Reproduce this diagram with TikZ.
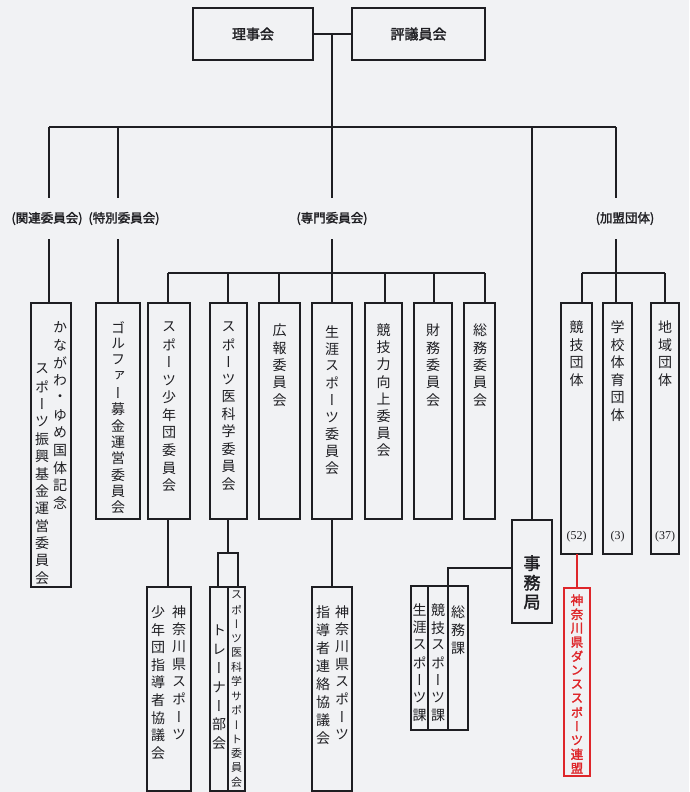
\documentclass[tikz,border=0pt]{standalone}
\usepackage{fontspec}
\newfontfamily\jpv[RawFeature=+vert]{Noto Sans CJK JP}
\newfontfamily\jpvb[RawFeature=+vert,FakeBold=2]{Noto Sans CJK JP}
\newfontfamily\jph{Noto Sans CJK JP}
\newfontfamily\jphb[FakeBold=2]{Noto Sans CJK JP}
\newfontfamily\numf{Liberation Serif}
\definecolor{bgc}{RGB}{241,242,244}
\definecolor{redc}{RGB}{222,38,42}
\definecolor{ink}{RGB}{30,30,34}
\newlength\myvtp
\def\myvtend{\myvtend}
\def\myvtloop#1{\ifx#1\myvtend\else\vbox to\myvtp{\vss\hbox to 2em{\hss#1\hss}\vss}\expandafter\myvtloop\fi}
\newcommand\myvtext[2]{\setlength\myvtp{#1}\vbox{\offinterlineskip\myvtloop#2\myvtend}}
\tikzset{
  box/.style={draw=ink,line width=1.3pt,inner sep=0pt,outer sep=0pt},
  ln/.style={draw=ink,line width=1.3pt},
  vt/.style={inner sep=0pt,anchor=north,text=ink,font=\jpv},
  lbl/.style={inner sep=0pt,minimum height=41pt,text=ink,font=\jphb\fontsize{12.5}{14}\selectfont},
  num/.style={inner sep=0pt,text=ink,font=\numf\fontsize{12}{14}\selectfont}
}
% box: name, x1, y1, x2, y2
\newcommand\bx[6][]{\node[box,#1,minimum width={#5-#3},minimum height={#6-#4}] (#2) at ({(#3+#5)/2},{(#4+#6)/2}) {};}
% vertical column: options, name, x, first char centre y, pitch, size, text
\newcommand\vcol[7][]{\node[vt,#1] (#2) at (#3,{#4-#5/2}) {\fontsize{#6}{#6}\selectfont\myvtext{#5pt}{#7}};}
\begin{document}
\begin{tikzpicture}[x=1pt,y=-1pt]
\fill[bgc] (0,0) rectangle (689,792);
\useasboundingbox (0,0) rectangle (689,792);

% top boxes
\bx{riji}{193}{8}{313}{60}
\bx{hyogi}{352}{8}{485}{60}
\node[text=ink,font=\jphb\fontsize{14}{16}\selectfont] (tr) at (riji) {理事会};
\node[text=ink,font=\jphb\fontsize{14}{16}\selectfont] (th) at (hyogi) {評議員会};
\coordinate (t0) at (332,34);
\draw[ln] (riji.east) -- (hyogi.west);

% main bar
\coordinate (b1) at (49,127);
\coordinate (b2) at (118,127);
\coordinate (b3) at (332,127);
\coordinate (b4) at (532,127);
\coordinate (b5) at (616,127);
\draw[ln] (t0) -- (b3);
\draw[ln] (b1) -- (b5);

% group labels
\node[lbl] (lb1) at (47,218.5) {(関連委員会)};
\node[lbl] (lb2) at (124,218.5) {(特別委員会)};
\node[lbl] (lb3) at (332,218.5) {(専門委員会)};
\node[lbl] (lb5) at (625,218.5) {(加盟団体)};

% first row boxes
\bx{kanagawa}{31}{303}{71}{587}
\bx{golf}{96}{303}{140}{519}
\bx{shonen}{148}{303}{190}{519}
\bx{ika}{210}{303}{247}{519}
\bx{koho}{259}{303}{300}{519}
\bx{shogai}{312}{303}{352}{519}
\bx{kyogiryoku}{365}{303}{402}{519}
\bx{zaimu}{414}{303}{452}{519}
\bx{somu}{464}{303}{495}{519}
\bx{kdantai}{561}{303}{592}{554}
\bx{gakko}{603}{303}{632}{554}
\bx{chiiki}{651}{303}{679}{554}
\bx{jimu}{512}{520}{552}{623}

% drops from main bar
\draw[ln] (b1) -- (b1 |- lb1.north);
\draw[ln] (b1 |- lb1.south) -- (b1 |- kanagawa.north);
\draw[ln] (b2) -- (b2 |- lb2.north);
\draw[ln] (b2 |- lb2.south) -- (b2 |- golf.north);
\draw[ln] (b3) -- (b3 |- lb3.north);
\draw[ln] (b4) -- (jimu.north);
\draw[ln] (b5) -- (b5 |- lb5.north);

% 専門委員会 sub bar
\coordinate (s1) at (168,273);
\coordinate (s2) at (228,273);
\coordinate (s3) at (279,273);
\coordinate (s4) at (332,273);
\coordinate (s5) at (385,273);
\coordinate (s6) at (434,273);
\coordinate (s7) at (485,273);
\draw[ln] (b3 |- lb3.south) -- (s4);
\draw[ln] (s1) -- (s7);
\draw[ln] (s1) -- (s1 |- shonen.north);
\draw[ln] (s2) -- (s2 |- ika.north);
\draw[ln] (s3) -- (s3 |- koho.north);
\draw[ln] (s4) -- (s4 |- shogai.north);
\draw[ln] (s5) -- (s5 |- kyogiryoku.north);
\draw[ln] (s6) -- (s6 |- zaimu.north);
\draw[ln] (s7) -- (s7 |- somu.north);

% 加盟団体 sub bar
\coordinate (k1) at (582,273);
\coordinate (k2) at (616,273);
\coordinate (k3) at (665,273);
\draw[ln] (b5 |- lb5.south) -- (k2);
\draw[ln] (k1) -- (k3);
\draw[ln] (k1) -- (k1 |- kdantai.north);
\draw[ln] (k2) -- (k2 |- gakko.north);
\draw[ln] (k3) -- (k3 |- chiiki.north);

% lower boxes
\bx{shidou1}{147}{587}{191}{791}
\bx{small}{218}{553}{238}{587}
\bx{trainer}{210}{587}{228}{791}
\bx{support}{228}{587}{245}{791}
\bx{shidou2}{312}{587}{352}{791}
\bx{ka1}{411}{586}{428}{730}
\bx{ka2}{428}{586}{448}{730}
\bx{ka3}{448}{586}{468}{730}
\bx[draw=redc]{dance}{564}{588}{590}{776}

\draw[ln] (s1 |- shonen.south) -- (s1 |- shidou1.north);
\draw[ln] (s2 |- ika.south) -- (s2 |- small.north);
\draw[ln] (s4 |- shogai.south) -- (s4 |- shidou2.north);
\coordinate (jk) at (448,568);
\draw[ln] (jimu.west |- jk) -- (jk) -- (ka3.north west);
\draw[ln,draw=redc] (kdantai.south -| dance.north) -- (dance.north);

% texts in first row
\vcol{x1a}{60}{327}{17.6}{14}{かながわ・ゆめ国体記念}
\vcol{x1b}{42}{369}{17.4}{14}{スポーツ振興基金運営委員会}
\vcol{x2}{118}{327}{16.4}{14}{ゴルファー募金運営委員会}
\vcol{x3}{169}{327}{17.6}{14}{スポーツ少年団委員会}
\vcol{x4}{228.5}{327}{17.4}{14}{スポーツ医科学委員会}
\vcol{x5}{279.5}{330}{17.5}{14}{広報委員会}
\vcol{x6}{332}{332}{17}{14}{生涯スポーツ委員会}
\vcol{x7}{383.5}{330}{17.2}{14}{競技力向上委員会}
\vcol{x8}{433}{330}{17.5}{14}{財務委員会}
\vcol{x9}{480}{330}{17.5}{14}{総務委員会}
\vcol{x10}{576.5}{327}{17.7}{14}{競技団体}
\vcol{x11}{617.5}{327}{17.6}{14}{学校体育団体}
\vcol{x12}{665}{327}{17.7}{14}{地域団体}
\node[num] (n1) at (576.5,537) {(52)};
\node[num] (n2) at (617.5,537) {(3)};
\node[num] (n3) at (665,537) {(37)};

% texts in lower row
\vcol{y1a}{179}{612}{17.4}{14}{神奈川県スポーツ}
\vcol{y1b}{158}{612}{17.6}{14}{少年団指導者協議会}
\vcol{y2}{219}{630}{18.9}{14}{トレーナー部会}
\vcol{y3}{236.5}{595}{14.4}{11}{スポーツ医科学サポート委員会}
\vcol{y4a}{342}{612}{17.4}{14}{神奈川県スポーツ}
\vcol{y4b}{323}{612}{18}{14}{指導者連絡協議会}
\vcol[font=\jpvb]{y5}{532}{563}{19.5}{17}{事務局}
\vcol{y6}{419.5}{610}{17.5}{14}{生涯スポーツ課}
\vcol{y7}{438}{610}{17.5}{14}{競技スポーツ課}
\vcol{y8}{458}{612}{18}{14}{総務課}
\vcol[font=\jpvb,text=redc]{y9}{577}{600}{14}{12.5}{神奈川県ダンススポーツ連盟}
\end{tikzpicture}
\end{document}
